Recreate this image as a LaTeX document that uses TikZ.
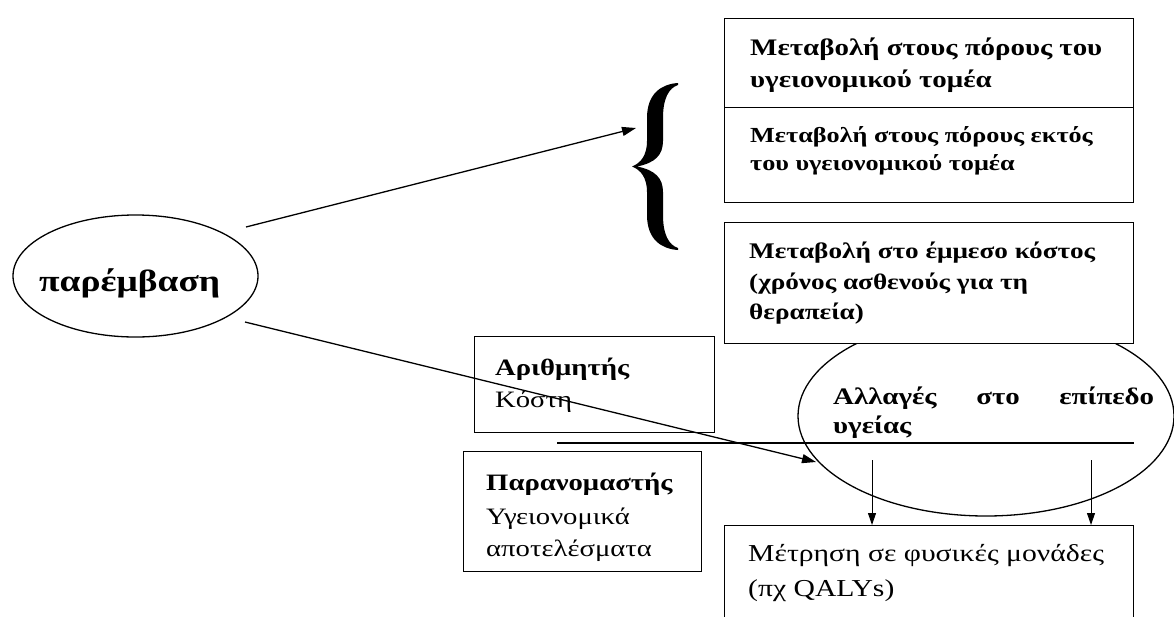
\documentclass[tikz,border=0pt]{standalone}
\usepackage{fontspec}
\setmainfont{Liberation Serif}[FakeStretch=1.22]
\usetikzlibrary{arrows.meta,shapes.geometric}
\tikzset{
  boxn/.style={draw=black, line width=1.3pt, fill=white, anchor=north west, inner sep=0pt},
  txt/.style={anchor=base west, inner sep=0pt},
  oval/.style={draw=black, line width=1.3pt, ellipse, inner sep=0pt},
  conn/.style={line width=1.3pt, -{Triangle[length=14pt,width=9pt]}},
  down/.style={line width=1pt, -{Triangle[length=12pt,width=8pt]}},
}
\newcommand{\fsA}{\fontsize{23.7}{28}\selectfont\bfseries}
\newcommand{\fsB}{\fontsize{21.5}{26}\selectfont\bfseries}
\newcommand{\fsD}{\fontsize{22.3}{26}\selectfont\bfseries}
\newcommand{\fsN}{\fontsize{23.5}{28}\selectfont\bfseries}
\newcommand{\fsR}{\fontsize{23.5}{28}\selectfont}
\newcommand{\fsM}{\fontsize{24.3}{28}\selectfont}
\begin{document}
\begin{tikzpicture}[x=1pt,y=-1pt]
\useasboundingbox (0,0) rectangle (1174,616);
\fill[white] (0,0) rectangle (1174,616);
% left ellipse
\node[oval, minimum width=245pt, minimum height=122pt] (interv) at (135.5,276) {};
\node[txt] (intervt) at (39,291) {\fontsize{30.7}{34}\selectfont\bfseries παρέμβαση};
% big ellipse
\node[oval, minimum width=376pt, minimum height=200pt] (health) at (986,416) {};
% boxes
\node[boxn, minimum width=409pt, minimum height=89pt] (b1) at (724,18) {};
\node[boxn, minimum width=409pt, minimum height=95pt] (b2) at (724,107) {};
\node[boxn, minimum width=409pt, minimum height=121pt] (b3) at (724,222) {};
\node[boxn, minimum width=240pt, minimum height=96pt] (num) at (474,336) {};
\node[boxn, minimum width=238pt, minimum height=120pt] (den) at (463,451) {};
\node[boxn, minimum width=409pt, minimum height=125pt] (meas) at (724,525) {};
% texts
\node[txt] (t1a) at (750,55) {\fsA Μεταβολή στους πόρους του};
\node[txt] (t1b) at (750,87) {\fsA υγειονομικού τομέα};
\node[txt] (t2a) at (750,142) {\fsB Μεταβολή στους πόρους εκτός};
\node[txt] (t2b) at (750,170) {\fsB του υγειονομικού τομέα};
\node[txt] (t3a) at (749,258) {\fsD Μεταβολή στο έμμεσο κόστος};
\node[txt] (t3b) at (749,289) {\fsD (χρόνος ασθενούς για τη};
\node[txt] (t3c) at (749,319) {\fsD θεραπεία)};
\node[txt] (n1) at (495,375) {\fsN Αριθμητής};
\node[txt] (n2) at (495,407) {\fsR Κόστη};
\node[txt] (d1) at (486,490) {\fsN Παρανομαστής};
\node[txt] (d2) at (486,524) {\fsR Υγειονομικά};
\node[txt] (d3) at (486,556) {\fsR αποτελέσματα};
\node[txt] (h1) at (833,404) {\makebox[321pt][s]{\fsA Αλλαγές στο επίπεδο}};
\node[txt] (h2) at (833,433) {\fsA υγείας};
\node[txt] (m1) at (748,561) {\fsM Μέτρηση σε φυσικές μονάδες};
\node[txt] (m2) at (748,596) {\fsM (πχ QALYs)};
% brace (drawn shape)
\begin{scope}[shift={(632,83)}]
\fill[black] (46,0) .. controls (30,1) and (15,10) .. (15,35) -- (15,58)
  .. controls (15,72) and (9,80) .. (0,83.5)
  .. controls (9,87) and (15,95) .. (15,109) -- (15,132)
  .. controls (15,157) and (30,166) .. (46,167)
  -- (46,165) .. controls (37,162) and (31,152) .. (31,132) -- (31,109)
  .. controls (31,95) and (23,87) .. (5,83.5)
  .. controls (23,80) and (31,72) .. (31,58) -- (31,35)
  .. controls (31,15) and (37,5) .. (46,2) -- cycle;
\end{scope}
% separator line
\coordinate (sepL) at (557,443);
\coordinate (sepR) at (1134,443);
\draw[line width=1.3pt] (sepL) -- (sepR);
% connectors
\coordinate (a1s) at (246,227);
\coordinate (a1e) at (636,128);
\coordinate (a2s) at (245,322);
\coordinate (a2e) at (816,462);
\draw[conn] (a1s) -- (a1e);
\draw[conn] (a2s) -- (a2e);
\coordinate (d1s) at (872,460);
\coordinate (d2s) at (1091,460);
\draw[down] (d1s) -- (meas.north -| d1s);
\draw[down] (d2s) -- (meas.north -| d2s);
\end{tikzpicture}
\end{document}
